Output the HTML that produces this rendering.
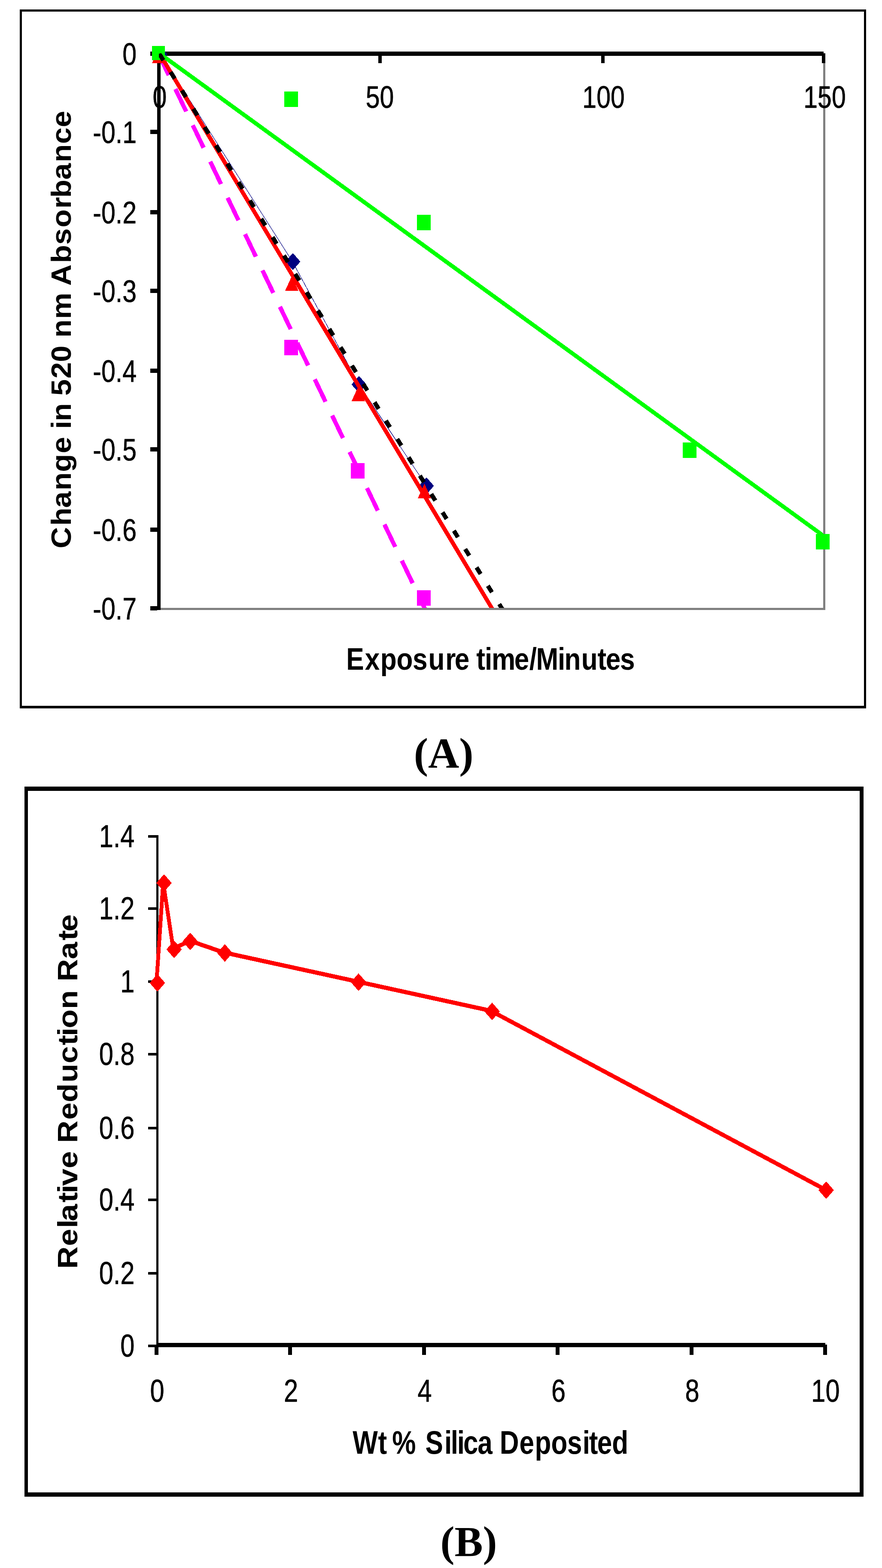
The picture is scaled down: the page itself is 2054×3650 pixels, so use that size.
<!DOCTYPE html>
<html><head><meta charset="utf-8"><title>Figure</title>
<style>html,body{margin:0;padding:0;background:#fff;} svg{display:block;}</style></head>
<body>
<svg width="2054" height="3650" viewBox="0 0 2054 3650" shape-rendering="crispEdges">
<defs><clipPath id="plotA"><rect x="370" y="124" width="1547" height="1291"/></clipPath></defs>
<rect x="0" y="0" width="2054" height="3650" fill="#fff"/>
<rect x="46.00" y="22.00" width="5.00" height="1627.00" fill="#000"/>
<rect x="46.00" y="22.00" width="1971.00" height="5.00" fill="#000"/>
<rect x="2012.00" y="22.00" width="5.00" height="1627.00" fill="#000"/>
<rect x="46.00" y="1643.00" width="1971.00" height="6.00" fill="#000"/>
<rect x="1917.00" y="125.00" width="5.00" height="1295.00" fill="#808080"/>
<rect x="370.00" y="1415.00" width="1552.00" height="5.00" fill="#808080"/>
<rect x="350.00" y="120.00" width="1568.00" height="10.00" fill="#000"/>
<rect x="366.00" y="120.00" width="8.00" height="1300.00" fill="#000"/>
<rect x="350.00" y="302.00" width="16.00" height="10.00" fill="#000"/>
<rect x="350.00" y="489.00" width="16.00" height="10.00" fill="#000"/>
<rect x="350.00" y="672.00" width="16.00" height="10.00" fill="#000"/>
<rect x="350.00" y="857.50" width="16.00" height="10.00" fill="#000"/>
<rect x="350.00" y="1041.00" width="16.00" height="10.00" fill="#000"/>
<rect x="350.00" y="1228.00" width="16.00" height="10.00" fill="#000"/>
<rect x="350.00" y="1410.50" width="16.00" height="10.00" fill="#000"/>
<rect x="880.50" y="124.00" width="8.00" height="23.00" fill="#000"/>
<rect x="1399.50" y="124.00" width="8.00" height="23.00" fill="#000"/>
<rect x="1914.00" y="124.00" width="8.00" height="23.00" fill="#000"/>
<line clip-path="url(#plotA)" x1="369" y1="125" x2="990" y2="1418" stroke="#FF00FF" stroke-width="10" stroke-dasharray="58 35.7" stroke-dashoffset="2.5"/>
<rect x="662.00" y="791.00" width="32.00" height="36.00" fill="#FF00FF"/>
<rect x="816.50" y="1078.00" width="32.00" height="36.00" fill="#FF00FF"/>
<rect x="971.00" y="1373.60" width="32.00" height="36.00" fill="#FF00FF"/>
<polyline points="373,125 681,609 836,895 993,1131" fill="none" stroke="#000080" stroke-width="1.2"/>
<polygon points="372.5,106.5 390.0,126.5 372.5,146.5 355.0,126.5" fill="#000080"/>
<polygon points="682,589 699.5,609 682,629 664.5,609" fill="#000080"/>
<polygon points="836,875 853.5,895 836,915 818.5,895" fill="#000080"/>
<polygon points="993,1111 1010.5,1131 993,1151 975.5,1131" fill="#000080"/>
<line clip-path="url(#plotA)" x1="371.6" y1="125" x2="1147" y2="1418.3" stroke="#FF0000" stroke-width="9.5"/>
<polygon points="369.5,112.9 385.0,146.9 354.0,146.9" fill="#FF0000"/>
<polygon points="679.5,642.8 695.0,676.8 664.0,676.8" fill="#FF0000"/>
<polygon points="834.4,899.5 849.9,933.5 818.9,933.5" fill="#FF0000"/>
<polygon points="988.5,1125.9 1004.0,1159.9 973.0,1159.9" fill="#FF0000"/>
<line clip-path="url(#plotA)" x1="370" y1="123.4" x2="1921" y2="1249.7" stroke="#00FF00" stroke-width="9.5"/>
<rect x="354.00" y="107.00" width="30.00" height="33.00" fill="#00FF00"/>
<rect x="662.00" y="213.00" width="32.00" height="36.00" fill="#00FF00"/>
<rect x="971.00" y="500.00" width="32.00" height="36.00" fill="#00FF00"/>
<rect x="1590.00" y="1030.00" width="32.00" height="36.00" fill="#00FF00"/>
<rect x="1900.00" y="1243.00" width="32.00" height="36.00" fill="#00FF00"/>
<line clip-path="url(#plotA)" x1="366" y1="117" x2="1170" y2="1418.3" stroke="#000" stroke-width="10" stroke-dasharray="18 32.2" stroke-dashoffset="40.77"/>
<text transform="translate(318.00 151.00) scale(0.8200 1.0000)" font-family="'Liberation Sans', Arial, Helvetica, sans-serif" font-size="72.00" font-weight="normal" text-anchor="end" stroke="#000" stroke-width="0.7">0</text>
<text transform="translate(318.00 333.00) scale(0.8200 1.0000)" font-family="'Liberation Sans', Arial, Helvetica, sans-serif" font-size="72.00" font-weight="normal" text-anchor="end" stroke="#000" stroke-width="0.7">-0.1</text>
<text transform="translate(318.00 520.00) scale(0.8200 1.0000)" font-family="'Liberation Sans', Arial, Helvetica, sans-serif" font-size="72.00" font-weight="normal" text-anchor="end" stroke="#000" stroke-width="0.7">-0.2</text>
<text transform="translate(318.00 703.00) scale(0.8200 1.0000)" font-family="'Liberation Sans', Arial, Helvetica, sans-serif" font-size="72.00" font-weight="normal" text-anchor="end" stroke="#000" stroke-width="0.7">-0.3</text>
<text transform="translate(318.00 888.50) scale(0.8200 1.0000)" font-family="'Liberation Sans', Arial, Helvetica, sans-serif" font-size="72.00" font-weight="normal" text-anchor="end" stroke="#000" stroke-width="0.7">-0.4</text>
<text transform="translate(318.00 1072.00) scale(0.8200 1.0000)" font-family="'Liberation Sans', Arial, Helvetica, sans-serif" font-size="72.00" font-weight="normal" text-anchor="end" stroke="#000" stroke-width="0.7">-0.5</text>
<text transform="translate(318.00 1259.00) scale(0.8200 1.0000)" font-family="'Liberation Sans', Arial, Helvetica, sans-serif" font-size="72.00" font-weight="normal" text-anchor="end" stroke="#000" stroke-width="0.7">-0.6</text>
<text transform="translate(318.00 1441.50) scale(0.8200 1.0000)" font-family="'Liberation Sans', Arial, Helvetica, sans-serif" font-size="72.00" font-weight="normal" text-anchor="end" stroke="#000" stroke-width="0.7">-0.7</text>
<text transform="translate(372.00 251.00) scale(0.8200 1.0000)" font-family="'Liberation Sans', Arial, Helvetica, sans-serif" font-size="72.00" font-weight="normal" text-anchor="middle" stroke="#000" stroke-width="0.7">0</text>
<text transform="translate(884.50 251.00) scale(0.8200 1.0000)" font-family="'Liberation Sans', Arial, Helvetica, sans-serif" font-size="72.00" font-weight="normal" text-anchor="middle" stroke="#000" stroke-width="0.7">50</text>
<text transform="translate(1405.60 251.00) scale(0.8200 1.0000)" font-family="'Liberation Sans', Arial, Helvetica, sans-serif" font-size="72.00" font-weight="normal" text-anchor="middle" stroke="#000" stroke-width="0.7">100</text>
<text transform="translate(1920.50 251.00) scale(0.8200 1.0000)" font-family="'Liberation Sans', Arial, Helvetica, sans-serif" font-size="72.00" font-weight="normal" text-anchor="middle" stroke="#000" stroke-width="0.7">150</text>
<text transform="translate(0 1559.20) scale(0.8534 1)" x="944.86 995.66 1037.98 1082.19 1126.03 1168.85 1215.57 1240.50 1250.50 1299.84 1322.99 1341.58 1403.38 1444.50 1462.99 1522.20 1540.18 1586.25 1630.53 1652.98 1692.07" y="0" font-family="'Liberation Sans', Arial, Helvetica, sans-serif" font-size="72.75" font-weight="bold">Exposure time/Minutes</text>
<text transform="matrix(0 -0.34455 0.32394 0 165.20 1280.00)" x="9.94 163.07 283.62 401.85 526.31 652.16 672.16 816.92 869.27 889.27 1041.36 1157.44 1269.11 1289.11 1434.78 1559.94 1579.94 1784.31 1937.78 2061.21 2178.27 2305.56 2379.22 2501.12 2618.92 2743.06 2855.01" y="0" font-family="'Liberation Sans', Arial, Helvetica, sans-serif" font-size="200" font-weight="bold">Change in 520 nm Absorbance</text>
<text transform="translate(963.80 1786.60) scale(1.0000 1.0000)" font-family="'Liberation Serif', 'Times New Roman', Times, serif" font-size="100.00" font-weight="bold" text-anchor="start">(A)</text>
<rect x="57.00" y="1831.00" width="8.00" height="1653.00" fill="#000"/>
<rect x="57.00" y="1831.00" width="1954.00" height="10.00" fill="#000"/>
<rect x="2002.00" y="1831.00" width="9.00" height="1653.00" fill="#000"/>
<rect x="57.00" y="3474.00" width="1954.00" height="10.00" fill="#000"/>
<rect x="364.00" y="1944.00" width="5.00" height="1192.00" fill="#000"/>
<rect x="345.00" y="3130.00" width="19.00" height="6.00" fill="#000"/>
<rect x="345.00" y="2960.50" width="19.00" height="6.00" fill="#000"/>
<rect x="345.00" y="2790.40" width="19.00" height="6.00" fill="#000"/>
<rect x="345.00" y="2622.80" width="19.00" height="6.00" fill="#000"/>
<rect x="345.00" y="2450.90" width="19.00" height="6.00" fill="#000"/>
<rect x="345.00" y="2281.70" width="19.00" height="6.00" fill="#000"/>
<rect x="345.00" y="2111.50" width="19.00" height="6.00" fill="#000"/>
<rect x="345.00" y="1944.20" width="19.00" height="6.00" fill="#000"/>
<rect x="364.00" y="3126.00" width="1558.00" height="10.00" fill="#000"/>
<rect x="360.00" y="3130.00" width="9.00" height="24.00" fill="#000"/>
<rect x="671.40" y="3130.00" width="9.00" height="24.00" fill="#000"/>
<rect x="982.80" y="3130.00" width="9.00" height="24.00" fill="#000"/>
<rect x="1294.20" y="3130.00" width="9.00" height="24.00" fill="#000"/>
<rect x="1605.60" y="3130.00" width="9.00" height="24.00" fill="#000"/>
<rect x="1917.00" y="3130.00" width="9.00" height="24.00" fill="#000"/>
<g transform="scale(0.9 1)"><polyline points="405.00,2286.5 422.30,2054.0 448.25,2208.5 491.50,2190.0 578.00,2216.9 924.00,2284.8 1270.00,2352.9 2135.00,2769.0" fill="none" stroke="#FF0000" stroke-width="9.9" stroke-linejoin="round"/></g>
<polygon points="366.5,2267.5 384.5,2288 366.5,2308.5 348.5,2288" fill="#FF0000"/>
<polygon points="382,2035.0 400,2055.5 382,2076.0 364,2055.5" fill="#FF0000"/>
<polygon points="405.5,2189.5 423.5,2210 405.5,2230.5 387.5,2210" fill="#FF0000"/>
<polygon points="443,2171.0 461,2191.5 443,2212.0 425,2191.5" fill="#FF0000"/>
<polygon points="523.6,2197.9 541.6,2218.4 523.6,2238.9 505.6,2218.4" fill="#FF0000"/>
<polygon points="835,2265.8 853,2286.3 835,2306.8 817,2286.3" fill="#FF0000"/>
<polygon points="1146,2333.9 1164,2354.4 1146,2374.9 1128,2354.4" fill="#FF0000"/>
<polygon points="1924,2750.0 1942,2770.5 1924,2791.0 1906,2770.5" fill="#FF0000"/>
<text transform="translate(313.50 3158.00) scale(0.8000 1.0000)" font-family="'Liberation Sans', Arial, Helvetica, sans-serif" font-size="74.50" font-weight="normal" text-anchor="end" stroke="#000" stroke-width="0.7">0</text>
<text transform="translate(313.50 2988.50) scale(0.8000 1.0000)" font-family="'Liberation Sans', Arial, Helvetica, sans-serif" font-size="74.50" font-weight="normal" text-anchor="end" stroke="#000" stroke-width="0.7">0.2</text>
<text transform="translate(313.50 2818.40) scale(0.8000 1.0000)" font-family="'Liberation Sans', Arial, Helvetica, sans-serif" font-size="74.50" font-weight="normal" text-anchor="end" stroke="#000" stroke-width="0.7">0.4</text>
<text transform="translate(313.50 2650.80) scale(0.8000 1.0000)" font-family="'Liberation Sans', Arial, Helvetica, sans-serif" font-size="74.50" font-weight="normal" text-anchor="end" stroke="#000" stroke-width="0.7">0.6</text>
<text transform="translate(313.50 2478.90) scale(0.8000 1.0000)" font-family="'Liberation Sans', Arial, Helvetica, sans-serif" font-size="74.50" font-weight="normal" text-anchor="end" stroke="#000" stroke-width="0.7">0.8</text>
<text transform="translate(313.50 2309.70) scale(0.8000 1.0000)" font-family="'Liberation Sans', Arial, Helvetica, sans-serif" font-size="74.50" font-weight="normal" text-anchor="end" stroke="#000" stroke-width="0.7">1</text>
<text transform="translate(313.50 2139.50) scale(0.8000 1.0000)" font-family="'Liberation Sans', Arial, Helvetica, sans-serif" font-size="74.50" font-weight="normal" text-anchor="end" stroke="#000" stroke-width="0.7">1.2</text>
<text transform="translate(313.50 1972.20) scale(0.8000 1.0000)" font-family="'Liberation Sans', Arial, Helvetica, sans-serif" font-size="74.50" font-weight="normal" text-anchor="end" stroke="#000" stroke-width="0.7">1.4</text>
<text transform="translate(366.00 3262.50) scale(0.8000 1.0000)" font-family="'Liberation Sans', Arial, Helvetica, sans-serif" font-size="74.50" font-weight="normal" text-anchor="middle" stroke="#000" stroke-width="0.7">0</text>
<text transform="translate(677.50 3262.50) scale(0.8000 1.0000)" font-family="'Liberation Sans', Arial, Helvetica, sans-serif" font-size="74.50" font-weight="normal" text-anchor="middle" stroke="#000" stroke-width="0.7">2</text>
<text transform="translate(989.00 3262.50) scale(0.8000 1.0000)" font-family="'Liberation Sans', Arial, Helvetica, sans-serif" font-size="74.50" font-weight="normal" text-anchor="middle" stroke="#000" stroke-width="0.7">4</text>
<text transform="translate(1300.50 3262.50) scale(0.8000 1.0000)" font-family="'Liberation Sans', Arial, Helvetica, sans-serif" font-size="74.50" font-weight="normal" text-anchor="middle" stroke="#000" stroke-width="0.7">6</text>
<text transform="translate(1612.00 3262.50) scale(0.8000 1.0000)" font-family="'Liberation Sans', Arial, Helvetica, sans-serif" font-size="74.50" font-weight="normal" text-anchor="middle" stroke="#000" stroke-width="0.7">8</text>
<text transform="translate(1922.40 3262.50) scale(0.8000 1.0000)" font-family="'Liberation Sans', Arial, Helvetica, sans-serif" font-size="74.50" font-weight="normal" text-anchor="middle" stroke="#000" stroke-width="0.7">10</text>
<text transform="translate(0 3384.00) scale(0.8255 1)" x="994.73 1066.72 1076.72 1106.42 1116.42 1199.86 1253.71 1271.75 1289.93 1306.94 1347.49 1357.49 1409.68 1465.15 1508.91 1554.79 1600.23 1643.70 1661.68 1684.77 1726.65" y="0" font-family="'Liberation Sans', Arial, Helvetica, sans-serif" font-size="75.20" font-weight="bold">Wt % Silica Deposited</text>
<text transform="matrix(0 -0.36063 0.32847 0 180.10 2955.00)" x="3.91 150.86 266.71 311.46 431.88 491.31 539.43 652.48 672.48 816.38 966.10 1078.54 1206.45 1330.38 1446.49 1506.07 1556.03 1680.17 1700.17 1859.28 2002.81 2123.23 2180.64" y="0" font-family="'Liberation Sans', Arial, Helvetica, sans-serif" font-size="200" font-weight="bold">Relative Reduction Rate</text>
<text transform="translate(1025.50 3622.00) scale(1.0000 1.0000)" font-family="'Liberation Serif', 'Times New Roman', Times, serif" font-size="99.00" font-weight="bold" text-anchor="start">(B)</text>
</svg>
</body></html>
